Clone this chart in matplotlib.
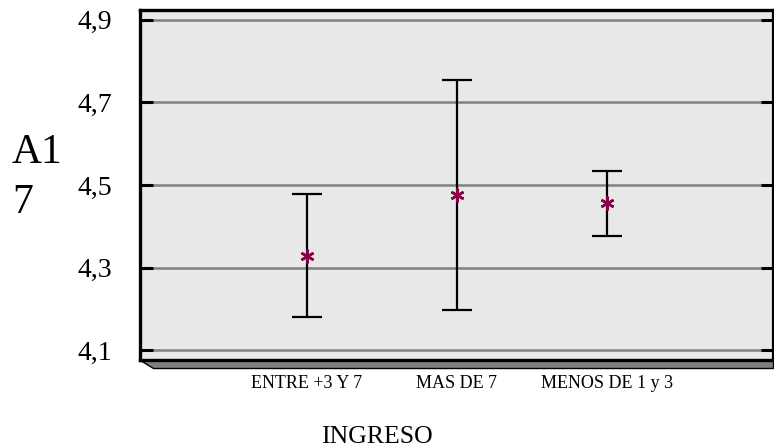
import matplotlib
matplotlib.use("Agg")
import matplotlib.pyplot as plt
from matplotlib.patches import Polygon

# data (mean and half-width of interval)
categories = ['ENTRE +3 Y 7', 'MAS DE 7', 'MENOS DE 1 y 3']
means = [4.328, 4.476, 4.456]
half_width = [0.149, 0.279, 0.079]
yticks = [4.1, 4.3, 4.5, 4.7, 4.9]
ytick_labels = ['4,1', '4,3', '4,5', '4,7', '4,9']

plt.rcParams['font.family'] = ['Liberation Serif', 'DejaVu Serif']

W, H = 774, 448
fig = plt.figure(figsize=(W / 100, H / 100), dpi=100)
ax = fig.add_axes([140 / W, 88 / H, 633 / W, 350 / H])
ax.set_facecolor('#e8e8e8')

x = [1, 2, 3]
ax.errorbar(x, means, yerr=half_width, fmt='none', ecolor='black',
            elinewidth=1.6, capsize=11, capthick=1.6, zorder=3)
ax.plot(x, means, linestyle='none', marker=(6, 2, 0), markersize=10,
        markeredgewidth=1.8, color='#880048', zorder=4)

ax.set_xlim(-0.113, 4.107)
ax.set_ylim(4.076, 4.924)
ax.set_yticks(yticks)
ax.set_yticklabels(ytick_labels, fontsize=20)
ax.set_xticks(x)
ax.set_xticklabels(categories, fontsize=13)

for yv in yticks:
    ax.axhline(yv, color='#808080', linewidth=1.8, zorder=1)

ax.tick_params(axis='y', direction='in', length=9, width=2.2,
               left=True, right=True, pad=20, colors='black')
ax.tick_params(axis='x', length=0, pad=11)

for side in ['left', 'top', 'bottom']:
    ax.spines[side].set_linewidth(2.4)
ax.spines['right'].set_linewidth(1.6)

# shaded floor under the plot
depth = 8 / 350
shift = 13 / 633
floor = Polygon([(0, 0), (1, 0), (1, -depth), (shift, -depth)], closed=True,
                transform=ax.transAxes, facecolor='#808080', edgecolor='black',
                linewidth=1.0, clip_on=False, zorder=0)
ax.add_patch(floor)

fig.text(12 / W, 1 - 163 / H, 'A1', fontsize=30, va='baseline', ha='left')
fig.text(12 / W, 1 - 213 / H, '7', fontsize=30, va='baseline', ha='left')
fig.text(377 / W, 1 - 443 / H, 'INGRESO', fontsize=18.5, va='baseline', ha='center')

fig.savefig('out.png', dpi=100)
